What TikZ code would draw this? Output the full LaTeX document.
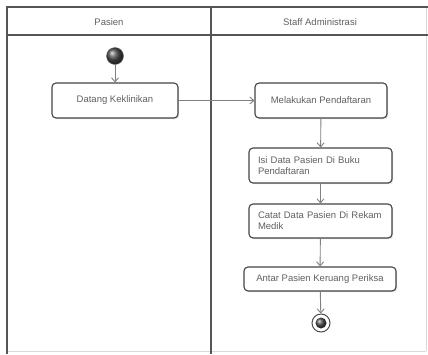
\documentclass[tikz,border=0pt]{standalone}
\usepackage{fontspec}
\setmainfont{Liberation Sans}
\usetikzlibrary{arrows.meta,shadows}
\definecolor{lanecol}{HTML}{555555}
\definecolor{boxcol}{HTML}{444444}
\definecolor{txtcol}{HTML}{606060}
\definecolor{arrcol}{HTML}{808080}
\tikzset{
  lane/.style={draw=lanecol, line width=1.6pt},
  lanelight/.style={draw=black!15, line width=0.8pt},
  act/.style={draw=boxcol, line width=1.1pt, rounded corners=4pt, fill=white,
    text=txtcol, font=\fontsize{9.5}{11}\selectfont, inner sep=0pt,
    drop shadow={shadow xshift=1.2pt, shadow yshift=-1.2pt, opacity=0.25}},
  hdr/.style={text=txtcol, font=\fontsize{9.5}{11}\selectfont},
  flow/.style={draw=arrcol, line width=0.9pt, -{Straight Barb[length=4pt,width=7pt]}},
}
\begin{document}
\begin{tikzpicture}[x=1pt,y=-1pt]
\useasboundingbox (0,0) rectangle (428,354);
\fill[white] (0,0) rectangle (428,354);
% swimlanes
\draw[lanelight] (7,351) -- (426,351);
\draw[lanelight] (426,7) -- (426,351);
\draw[lane] (7,354) -- (7,7) -- (428,7);
\draw[lane] (7,35) -- (428,35);
\draw[lane] (211,7) -- (211,354);
\node[hdr] (h1) at (109,22) {Pasien};
\node[hdr] (h2) at (320,22) {Staff Administrasi};
% initial node
\node[circle, minimum size=17pt, inner sep=0pt, ball color=black!70, draw=black!60] (start) at (115,56) {};
% activities
\node[act, minimum width=126pt, minimum height=35pt] (a1) at (115,100.5) {Datang Keklinikan};
\node[act, minimum width=132pt, minimum height=35pt] (a2) at (321,100.5) {Melakukan Pendaftaran};
\node[act, minimum width=143pt, minimum height=35pt, text width=125pt, align=left] (a3) at (320.5,165.5) {Isi Data Pasien Di Buku Pendaftaran};
\node[act, minimum width=143pt, minimum height=34pt, text width=125pt, align=left] (a4) at (320.5,221) {Catat Data Pasien Di Rekam Medik};
\node[act, minimum width=152pt, minimum height=24pt] (a5) at (320,279) {Antar Pasien Keruang Periksa};
% final node
\node[circle, minimum size=18pt, inner sep=0pt, draw=black!70, line width=1pt, fill=white] (end) at (321,323) {};
\node[circle, minimum size=11pt, inner sep=0pt, ball color=black!70] (endin) at (end) {};
% flows
\draw[flow] (start) -- (a1);
\draw[flow] (a1) -- (a2);
\draw[flow] (a2) -- (a3);
\draw[flow] (a3) -- (a4);
\draw[flow] (a4) -- (a5);
\draw[flow] (a5) -- (end);
\end{tikzpicture}
\end{document}
